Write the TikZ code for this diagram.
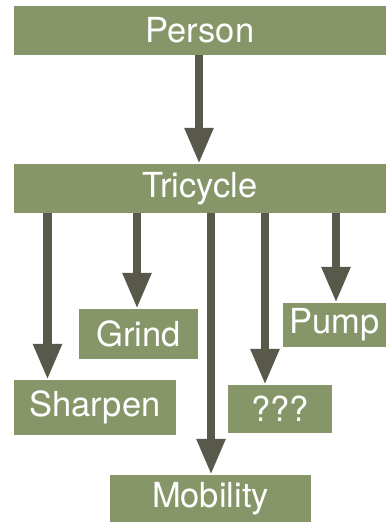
\documentclass[tikz,border=0pt]{standalone}
\usepackage{fontspec}
\setmainfont{TeX Gyre Heros}
\usepackage{tikz}
\usetikzlibrary{arrows.meta, % for fat arrow tips
                positioning}

\definecolor{boxgreen}{RGB}{135,150,104}
\definecolor{arrowgray}{RGB}{89,89,75}

\begin{document}
\begin{tikzpicture}[x=1pt, y=1pt,
                    Block/.style={fill=boxgreen, inner sep=0pt, text=white,
                                  font=\fontsize{34.5pt}{38pt}\selectfont},
                    fatarrow/.style={-{Triangle[width=27pt, length=36pt]}, line width=8.5pt, arrowgray}
                    ]
    \useasboundingbox (0,0) rectangle (386,-522);

    % BLOCKS %
    \node[Block, minimum width=372pt, minimum height=49pt] at (200,-30.5)  (person){Person};
    \node[Block, minimum width=372pt, minimum height=49pt] at (200,-188.5) (tricycle){Tricycle};
    \node[Block, minimum width=162pt, minimum height=55pt] at (95,-407.5)  (sharpen){Sharpen};
    \node[Block, minimum width=119pt, minimum height=50pt] at (138.5,-334) (grind){Grind};
    \node[Block, minimum width=201pt, minimum height=47pt] at (210.5,-498.5) (mobility){Mobility};
    \node[Block, minimum width=104pt, minimum height=48pt] at (280,-409)   (qqq){???};
    \node[Block, minimum width=103pt, minimum height=44pt] at (334.5,-325) (pump){Pump};

    % ARROWS %
    \draw[fatarrow] (199,0 |- person.south) -- (199,0 |- tricycle.north);

    \foreach \target/\xpos in {sharpen/47.5, grind/137, mobility/211, qqq/265, pump/336}
    \draw[fatarrow] (\xpos,0 |- tricycle.south) -- (\xpos,0 |- \target.north);

\end{tikzpicture}
\end{document}
